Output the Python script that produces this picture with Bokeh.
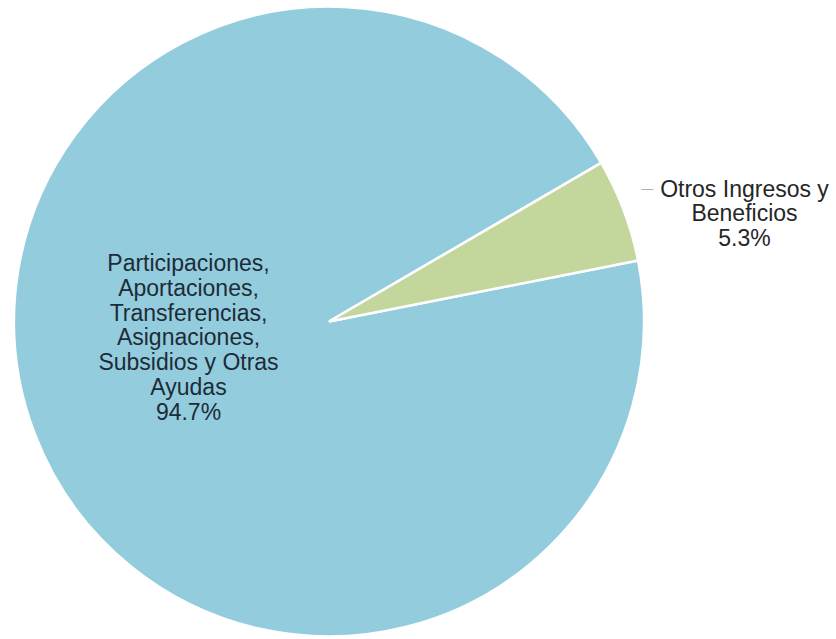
import math
from bokeh.plotting import figure
from bokeh.models import ColumnDataSource, Range1d
from bokeh.core.properties import value
from bokeh.embed import file_html
from bokeh.resources import INLINE

# ---- data ----
categories = ["Participaciones,\nAportaciones,\nTransferencias,\nAsignaciones,\nSubsidios y Otras\nAyudas",
              "Otros Ingresos y\nBeneficios"]
shares = [94.7, 5.3]
colors = ["#93CDDD", "#C3D69B"]

# ---- layout ----
W, H = 836, 639
p = figure(width=W, height=H, output_backend="svg", toolbar_location=None,
           x_range=Range1d(0, W), y_range=Range1d(0, H), min_border=0)
p.axis.visible = False
p.grid.visible = False
p.outline_line_color = None
p.background_fill_color = "white"
p.border_fill_color = "white"

cx, cy, r = 328.5, 318.0, 315.0
start_offset = math.radians(11.15)  # slice rotation

total = sum(shares)
ang_starts, ang_ends = [], []
a = start_offset
for s in shares:
    sweep = 2 * math.pi * s / total
    ang_starts.append(a - sweep)
    ang_ends.append(a)
    a -= sweep

src = ColumnDataSource(dict(x=[cx] * len(shares), y=[cy] * len(shares),
                            start=ang_starts, end=ang_ends, color=colors))
p.wedge(x="x", y="y", radius=r, start_angle="start", end_angle="end",
        fill_color="color", line_color="white", line_width=2.5, source=src)

labels = [f"{c}\n{s:.1f}%" for c, s in zip(categories, shares)]

# inside label for the big slice
p.text(x=[188], y=[302], text=[labels[0]], text_align="center", text_baseline="middle",
       text_font=value("Liberation Sans"), text_font_size="23px", text_color="#1E2B38",
       text_line_height=0.96)

# outside label for the small slice, with leader
tx, ty = 744, 426
p.line(x=[tx - 103, tx - 91], y=[ty + 24, ty + 24], line_color="#B0B0B0", line_width=1)
p.text(x=[tx], y=[ty], text=[labels[1]], text_align="center", text_baseline="middle",
       text_font=value("Liberation Sans"), text_font_size="23px", text_color="#262626",
       text_line_height=0.96)

open("out.html", "w").write(file_html(p, INLINE))
